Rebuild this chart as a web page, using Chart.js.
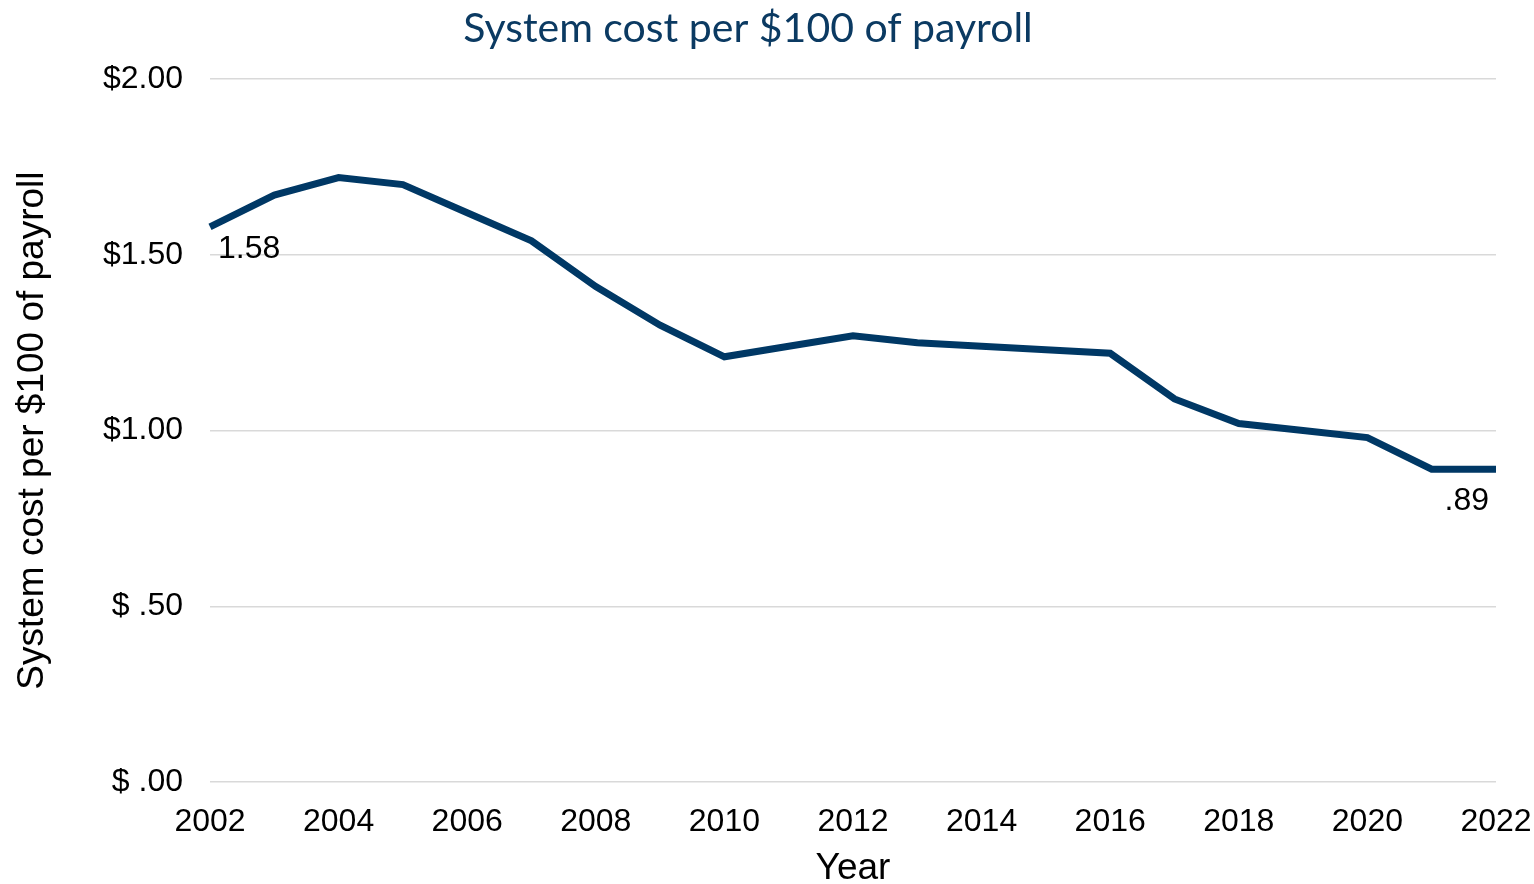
<!DOCTYPE html>
<html>
<head>
<meta charset="utf-8">
<script src="https://cdn.jsdelivr.net/npm/chart.js@4.4.0/dist/chart.umd.min.js"></script>
<style>
  html, body { margin: 0; padding: 0; background: #fff; }
  #wrap { width: 1534px; height: 884px; }
</style>
</head>
<body>
<div id="wrap"><canvas id="costChart"></canvas></div>
<script>
const years = ["2002", "2003", "2004", "2005", "2006", "2007", "2008", "2009", "2010", "2011",
  "2012", "2013", "2014", "2015", "2016", "2017", "2018", "2019", "2020", "2021", "2022"];
const costPer100 = [1.58, 1.67, 1.72, 1.70, 1.62, 1.54, 1.41, 1.30, 1.21, 1.24,
  1.27, 1.25, 1.24, 1.23, 1.22, 1.09, 1.02, 1.00, 0.98, 0.89, 0.89];
const yTickLabels = { 0: "$ .00", 0.5: "$ .50", 1: "$1.00", 1.5: "$1.50", 2: "$2.00" };
const pointLabels = { 0: "1.58", 20: ".89" };

const lineColor = "#003865";
const arial = "'Liberation Sans', Arial, sans-serif";

// draws the two value labels under the first and last point
const endLabels = {
  id: "endLabels",
  afterDatasetsDraw(chart) {
    const ctx = chart.ctx;
    const meta = chart.getDatasetMeta(0);
    ctx.save();
    ctx.font = "32px " + arial;
    ctx.fillStyle = "#000";
    ctx.textBaseline = "top";
    Object.keys(pointLabels).forEach((i) => {
      const pt = meta.data[i];
      if (Number(i) === 0) {
        ctx.textAlign = "left";
        ctx.fillText(pointLabels[i], pt.x + 8, pt.y + 6);
      } else {
        ctx.textAlign = "right";
        ctx.fillText(pointLabels[i], pt.x - 7, pt.y + 16);
      }
    });
    ctx.restore();
  },
};

new Chart(document.querySelector("#costChart"), {
  type: "line",
  data: {
    labels: years,
    datasets: [
      {
        data: costPer100,
        borderColor: lineColor,
        borderWidth: 7,
        pointRadius: 0,
        tension: 0,
        borderCapStyle: "butt",
        borderJoinStyle: "miter",
      },
    ],
  },
  plugins: [endLabels],
  options: {
    responsive: true,
    maintainAspectRatio: false,
    animation: false,
    layout: { padding: { left: 0, right: 38, top: 4, bottom: 0 } },
    plugins: {
      legend: { display: false },
      tooltip: { enabled: false },
      title: {
        display: true,
        text: "System cost per $100 of payroll",
        color: "#0b3a62",
        font: { family: "Lato, 'Open Sans', sans-serif", size: 41, weight: "normal" },
        padding: { top: 0, bottom: 26 },
      },
    },
    scales: {
      x: {
        grid: { display: false, drawTicks: false },
        border: { display: false },
        ticks: {
          autoSkip: false,
          maxRotation: 0,
          padding: 21,
          color: "#000",
          font: { family: arial, size: 32 },
          callback: (val, i) => (i % 2 === 0 ? years[i] : ""),
        },
        title: {
          display: true,
          text: "Year",
          color: "#000",
          font: { family: arial, size: 37, lineHeight: 0.8 },
          padding: { top: 0, bottom: 0 },
        },
        afterFit(scale) {
          scale.height = 102;
          scale.paddingLeft = 0;
          scale.paddingRight = 0;
        },
      },
      y: {
        min: 0,
        max: 2,
        grid: { color: "#d9d9d9", lineWidth: 1.5, drawTicks: false },
        border: { display: false },
        ticks: {
          stepSize: 0.5,
          padding: 27,
          color: "#000",
          font: { family: arial, size: 32 },
          callback: (val) => yTickLabels[val],
        },
        title: {
          display: true,
          text: "System cost per $100 of payroll",
          color: "#000",
          font: { family: arial, size: 37, lineHeight: 1.2 },
          padding: { top: 11, bottom: 0 },
        },
        afterFit(scale) { scale.width = 210; },
      },
    },
  },
});
</script>
</body>
</html>
